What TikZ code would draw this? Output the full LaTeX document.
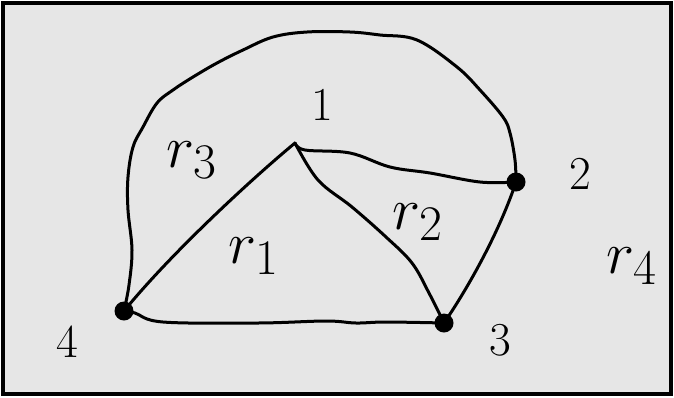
\documentclass[tikz,border=0pt]{standalone}
\usepackage{amsmath}
\usetikzlibrary{positioning}

\definecolor{paper}{HTML}{E6E6E6}

\begin{document}
\begin{tikzpicture}[
    x=1pt, y=-1pt,
    edge/.style={draw=black, line width=3pt, line cap=round, line join=round},
    vtx/.style={circle, fill=black, inner sep=0pt, minimum size=19pt},
    lbl/.style={font=\Huge, scale=1.9},
    reg/.style={font=\Huge, scale=2.4},
  ]
  % frame and background
  \useasboundingbox (0,0) rectangle (674,397);
  \draw[fill=paper, line width=4pt] (3,3) rectangle (671,394);
  % vertices
  \coordinate (v1) at (295,143);
  \node[vtx] (v2) at (516,182) {};
  \node[vtx] (v3) at (444,323) {};
  \node[vtx] (v4) at (124,311) {};
  % edges
  \draw[edge] (v1) .. controls (255,176) and (172,252) .. (v4.center);
  \draw[edge] plot[smooth, tension=0.6] coordinates {
     (295,143) (318,180) (352,207) (386,237) (412,263) (429,293) (444,323)};
  \draw[edge] plot[smooth, tension=0.6] coordinates {
     (295,143) (305,150) (350,153) (390,167) (430,173) (480,182) (516,182)};
  \draw[edge] plot[smooth, tension=0.6] coordinates {
     (124,311) (135,313) (163,322) (258,323) (326,321) (356,323) (386,322) (444,323)};
  \draw[edge] (v3.center) .. controls (470,285) and (500,230) .. (v2.center);
  \draw[edge] plot[smooth, tension=0.6] coordinates {
     (124,311) (129,285) (132,250) (128,210) (128,177) (133,147) (143,127)
     (157,103) (173,90) (193,77) (217,63) (243,50) (273,37) (307,32)
     (350,32) (380,35) (417,40) (457,67) (480,90) (503,117) (510,133)
     (515,160) (516,182)};
  % vertex labels
  \node[lbl] (n1) at (322,105) {1};
  \node[lbl] (n2) at (580,174) {2};
  \node[lbl] (n3) at (500,340) {3};
  \node[lbl] (n4) at (67,342) {4};
  % faces
  \node[reg] (f3) at (192,160) {$r_3$};
  \node[reg] (f1) at (254,256) {$r_1$};
  \node[reg] (f2) at (418,222) {$r_2$};
  \node[reg] (f4) at (632,266) {$r_4$};
\end{tikzpicture}
\end{document}
